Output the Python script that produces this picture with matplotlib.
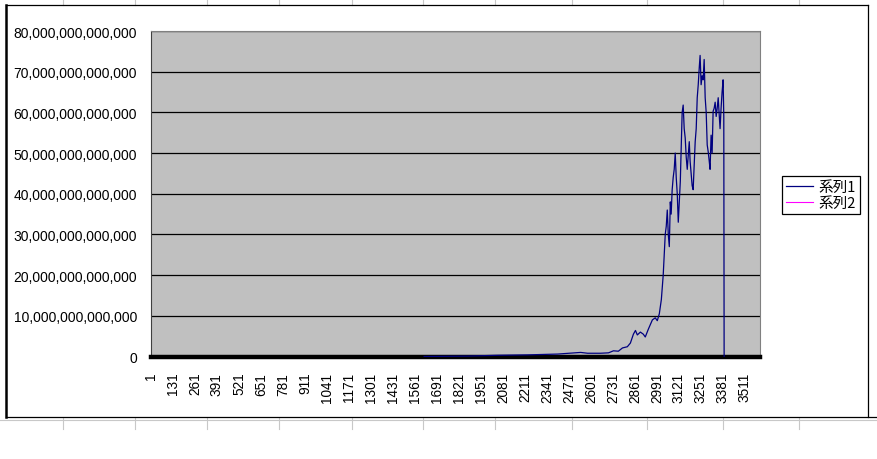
import matplotlib
matplotlib.use("Agg")
import matplotlib.pyplot as plt
from matplotlib.lines import Line2D
from matplotlib.ticker import FuncFormatter

# category index and value (in 1e12)
s1_idx = [1615, 1874, 2050, 2227, 2404, 2540, 2581, 2657, 2705, 2734, 2763, 2787,
          2816, 2834, 2852, 2864, 2875, 2893, 2910, 2922, 2940, 2964, 2981, 2993,
          3005, 3017, 3028, 3040, 3046, 3052, 3058, 3064, 3070, 3075, 3081, 3087,
          3093, 3099, 3105, 3111, 3117, 3123, 3129, 3140, 3146, 3152, 3158, 3164,
          3170, 3176, 3182, 3187, 3193, 3199, 3205, 3211, 3217, 3223, 3229, 3235,
          3241, 3246, 3252, 3258, 3264, 3270, 3276, 3282, 3288, 3294, 3300, 3305,
          3311, 3317, 3323, 3329, 3335, 3341, 3347, 3353, 3358, 3364, 3370, 3376,
          3382, 3386, 3388]
s1_val = [0.0, 0.1, 0.3, 0.4, 0.6, 1.0, 0.8, 0.8, 0.9, 1.4, 1.3, 2.1,
          2.4, 3.3, 5.5, 6.4, 5.3, 6.0, 5.5, 4.8, 6.7, 9.0, 9.5, 8.8,
          10.5, 14.0, 20.0, 30.0, 32.0, 36.0, 30.0, 27.0, 38.0, 35.0, 41.0, 44.0,
          46.0, 50.0, 44.0, 40.0, 33.0, 38.0, 43.0, 60.0, 61.8, 56.0, 53.7, 49.0,
          46.0, 49.5, 52.8, 48.0, 45.0, 42.0, 41.0, 47.0, 52.8, 56.0, 63.6, 66.8,
          71.0, 74.0, 66.8, 69.0, 68.0, 73.0, 63.6, 60.0, 52.0, 50.3, 48.0, 46.0,
          54.4, 50.0, 60.3, 61.0, 62.5, 59.0, 61.0, 63.6, 60.0, 56.0, 61.0, 65.0,
          68.0, 59.0, 0.0]
s2_idx = [1, 3600]
s2_val = [0.0, 0.0]

n_cat = 3600
xticks = list(range(1, 3512, 130))
yticks = [0, 10, 20, 30, 40, 50, 60, 70, 80]

fig = plt.figure(figsize=(8.78, 4.6), dpi=100)
W, H = 878, 460

def fx(px):
    return px / W

def fy(py):
    return 1 - py / H

# spreadsheet cell lines behind the chart
cols = [63, 135, 207, 279, 352, 423, 495, 572, 647, 723, 799]
for c in cols:
    fig.add_artist(Line2D([fx(c), fx(c)], [fy(0), fy(6)], color="#c8c8c8", lw=0.8))
    fig.add_artist(Line2D([fx(c), fx(c)], [fy(419), fy(430)], color="#c8c8c8", lw=0.8))
fig.add_artist(Line2D([0, 1], [fy(421), fy(421)], color="#c8c8c8", lw=0.8))

# chart frame
fig.add_artist(Line2D([fx(6), fx(868)], [fy(6), fy(6)], color="black", lw=0.9))
fig.add_artist(Line2D([fx(6), fx(6)], [fy(6), fy(418)], color="black", lw=1.8))
fig.add_artist(Line2D([fx(868), fx(868)], [fy(6), fy(418)], color="black", lw=0.9))
fig.add_artist(Line2D([fx(6), fx(878)], [fy(418), fy(418)], color="black", lw=0.9))

ax = fig.add_axes([fx(151), fy(357.5), fx(760) - fx(151), fy(32) - fy(357.5)])
ax.set_facecolor("#c0c0c0")

ax.plot(s2_idx, [v * 1e12 for v in s2_val], color="#ff00ff", lw=0.8, zorder=1, label="系列2")
ax.plot(s1_idx, [v * 1e12 for v in s1_val], color="#000080", lw=0.9, zorder=3, label="系列1")

ax.set_xlim(1, n_cat)
ax.set_ylim(0, 80e12)
ax.set_yticks([v * 1e12 for v in yticks])
ax.yaxis.set_major_formatter(FuncFormatter(lambda v, p: "{:,.0f}".format(v)))
ax.set_xticks(xticks)
ax.set_xticklabels([str(t) for t in xticks], rotation=90, va="top")
ax.tick_params(length=0, labelsize=10)
ax.tick_params(axis="y", pad=10)
ax.tick_params(axis="x", pad=11, labelsize=9.8)
for lab in ax.get_xticklabels() + ax.get_yticklabels():
    lab.set_fontfamily("Liberation Sans")

ax.grid(axis="y", color="black", lw=0.9)
ax.set_axisbelow(True)
ax.spines["bottom"].set_linewidth(3.2)
ax.spines["bottom"].set_color("black")
ax.spines["left"].set_color("#404040")
ax.spines["top"].set_color("#808080")
ax.spines["right"].set_color("#808080")

h, l = ax.get_legend_handles_labels()
leg = fig.legend(h[::-1], l[::-1], loc="center left", bbox_to_anchor=(fx(782), fy(196)),
                 prop={"family": ["Noto Sans CJK JP", "DejaVu Sans"], "size": 10.5},
                 fancybox=False, framealpha=1, edgecolor="black",
                 handlelength=1.8, handletextpad=0.4, labelspacing=0.1,
                 borderpad=0.3, borderaxespad=0)
leg.get_frame().set_linewidth(0.9)

fig.savefig("out.png", dpi=100)
